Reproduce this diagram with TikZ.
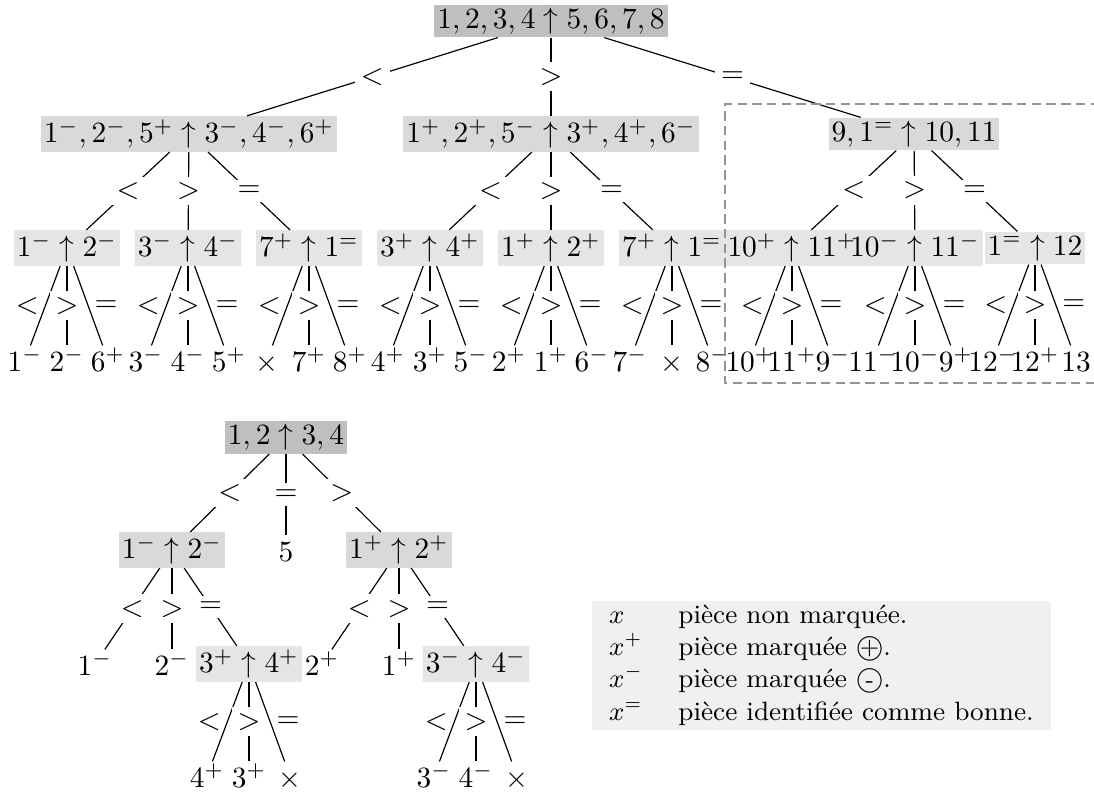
\documentclass[tikz,border=0pt]{standalone}
\usepackage{amsmath}
\usepackage{amssymb}
\usepackage{xcolor}
\usetikzlibrary{backgrounds}

\newcommand{\marque}[1]{\ooalign{$\bigcirc$\cr\hidewidth\raisebox{0.3pt}{\footnotesize#1}\hidewidth\cr}}

\begin{document}
\begin{tikzpicture}[x=0.34pt, y={(0pt,-0.34pt)},
    racine/.style={fill=gray!50, inner sep=1pt},
    pesee/.style={fill=gray!30, inner sep=1pt},
    sous/.style={fill=gray!20, inner sep=1pt},
    feuille/.style={inner sep=1pt, text height=7.5pt, text depth=0pt},
    lab/.style={fill=white, inner sep=2pt},
    labg/.style={left, inner sep=2pt},
    labd/.style={right, inner sep=2pt}]
    \useasboundingbox (0,0) rectangle (1094,792);

    % premiere pesee : 12 pieces
    \node[racine] (r) at (551,21) {$1,2,3,4\uparrow5,6,7,8$};
    \node[pesee] (a) at (189,134) {$1^-,2^-,5^+\uparrow3^-,4^-,6^+$};
    \node[pesee] (b) at (551,134) {$1^+,2^+,5^-\uparrow3^+,4^+,6^-$};
    \node[pesee] (c) at (914,134) {$9,1^=\uparrow10,11$};

    \draw (r) -- node[lab] {$<$} (a);
    \draw (r) -- node[lab] {$>$} (b);
    \draw (r) -- node[lab] {$=$} (c);

    \node[sous] (a1) at (67,248)   {$1^-\uparrow2^-$};
    \node[sous] (a2) at (188,248)  {$3^-\uparrow4^-$};
    \node[sous] (a3) at (309,248)  {$7^+\uparrow1^=$};
    \node[sous] (b1) at (430,248)  {$3^+\uparrow4^+$};
    \node[sous] (b2) at (551,248)  {$1^+\uparrow2^+$};
    \node[sous] (b3) at (672,248)  {$7^+\uparrow1^=$};
    \node[inner sep=1pt] (c1) at (792,248) {$10^+\uparrow11^+$};
    \node[inner sep=1pt] (c2) at (915,248) {$10^-\uparrow11^-$};
    \node[sous] (c3) at (1035,248) {$1^=\uparrow12$};
    \begin{scope}[on background layer]
        \fill[gray!20] (c1.north west) rectangle (c2.south east);
    \end{scope}

    \foreach \p in {a,b,c} {
        \draw (\p) -- node[lab] {$<$} (\p1);
        \draw (\p) -- node[lab] {$>$} (\p2);
        \draw (\p) -- node[lab] {$=$} (\p3);
    }

    % dernieres pesees
    \foreach \p/\x/\g/\m/\d in {a1/67/1^-/2^-/6^+, a2/188/3^-/4^-/5^+,
        a3/309/\times/7^+/8^+, b1/430/4^+/3^+/5^-, b2/551/2^+/1^+/6^-,
        b3/672/7^-/\times/8^-, c1/792/10^+/11^+/9^-, c2/915/11^-/10^-/9^+,
        c3/1035/12^-/12^+/13} {
        \node[feuille] (\p-g) at ({\x-42},360) {$\g$};
        \node[feuille] (\p-m) at (\x,360)      {$\m$};
        \node[feuille] (\p-d) at ({\x+41},360) {$\d$};
        \draw (\p) -- node[labg] {$<$} (\p-g);
        \draw (\p) -- node[lab]  {$>$} (\p-m);
        \draw (\p) -- node[labd] {$=$} (\p-d);
    }

    \draw[gray!85, dash pattern=on 3.2pt off 1.8pt] (1100,104) -- (725,104) -- (725,383) -- (1100,383);

    % cas de 4 pieces
    \node[racine] (s) at (286,437.5) {$1,2\uparrow3,4$};
    \node[pesee] (s1) at (172,550) {$1^-\uparrow2^-$};
    \node[feuille] (s2) at (286,550) {$5$};
    \node[pesee] (s3) at (399,550) {$1^+\uparrow2^+$};

    \draw (s) -- node[lab] {$<$} (s1);
    \draw (s) -- node[lab] {$=$} (s2);
    \draw (s) -- node[lab] {$>$} (s3);

    \node[feuille] (s1-g) at (95,664) {$1^-$};
    \node[feuille] (s1-m) at (172,664) {$2^-$};
    \node[sous] (t1) at (249,664) {$3^+\uparrow4^+$};
    \node[feuille] (s3-g) at (322,664) {$2^+$};
    \node[feuille] (s3-m) at (399,664) {$1^+$};
    \node[sous] (t2) at (476,664) {$3^-\uparrow4^-$};

    \draw (s1) -- node[lab] {$<$} (s1-g);
    \draw (s1) -- node[lab] {$>$} (s1-m);
    \draw (s1) -- node[lab] {$=$} (t1);
    \draw (s3) -- node[lab] {$<$} (s3-g);
    \draw (s3) -- node[lab] {$>$} (s3-m);
    \draw (s3) -- node[lab] {$=$} (t2);

    \foreach \p/\x/\g/\m/\d in {t1/249/4^+/3^+/\times, t2/476/3^-/4^-/\times} {
        \node[feuille] (\p-g) at ({\x-42},776) {$\g$};
        \node[feuille] (\p-m) at (\x,776)      {$\m$};
        \node[feuille] (\p-d) at ({\x+41},776) {$\d$};
        \draw (\p) -- node[labg] {$<$} (\p-g);
        \draw (\p) -- node[lab]  {$>$} (\p-m);
        \draw (\p) -- node[labd] {$=$} (\p-d);
    }

    % legende
    \node[fill=gray!12, inner sep=0pt, anchor=north west] (leg) at (591,600) {\small
        \begin{tabular}{ll}
            $x$   & pièce non marquée.\\
            $x^+$ & pièce marquée \marque{+}.\\
            $x^-$ & pièce marquée \marque{-}.\\
            $x^=$ & pièce identifiée comme bonne.
        \end{tabular}};
\end{tikzpicture}
\end{document}
